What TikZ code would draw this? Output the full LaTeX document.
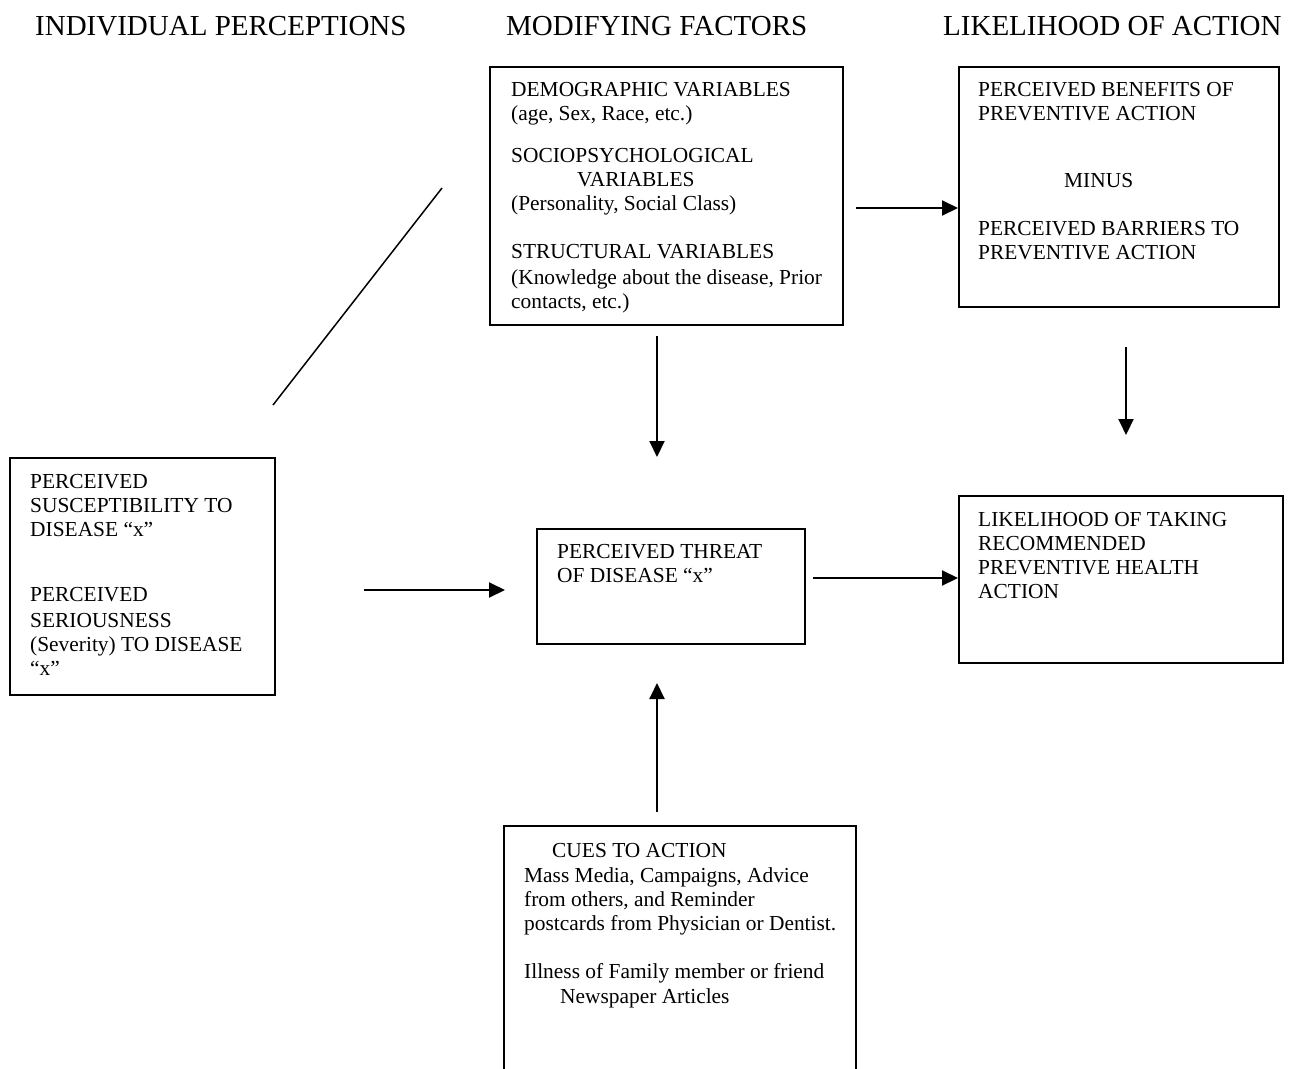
\documentclass[tikz,border=0pt]{standalone}
\usepackage{fontspec}
\setmainfont{Liberation Serif}
\usetikzlibrary{arrows.meta}
\begin{document}
\begin{tikzpicture}[x=1pt,y=-1pt,
  boxst/.style={draw=black,line width=2pt,inner sep=0pt,anchor=north west},
  txt/.style={anchor=north west,inner sep=0pt,align=left,font=\fontsize{21.4}{24}\selectfont},
  head/.style={anchor=base west,inner sep=0pt,font=\fontsize{29}{32}\selectfont},
  arr/.style={line width=2pt,-{Triangle[length=16pt,width=15pt]}},
  plain/.style={line width=1.5pt}]
\useasboundingbox (0,0) rectangle (1292,1068);
% headers
\node[head] (h1) at (35,35) {INDIVIDUAL PERCEPTIONS};
\node[head] (h2) at (506,35) {MODIFYING FACTORS};
\node[head] (h3) at (943,35) {LIKELIHOOD OF ACTION};
% boxes
\node[boxst,minimum width=353pt,minimum height=258pt] (mod) at (489,66) {};
\node[boxst,minimum width=320pt,minimum height=240pt] (ben) at (958,66) {};
\node[boxst,minimum width=265pt,minimum height=237pt] (ind) at (9,457) {};
\node[boxst,minimum width=268pt,minimum height=115pt] (thr) at (536,528) {};
\node[boxst,minimum width=324pt,minimum height=167pt] (lik) at (958,495) {};
% cues box (open at the bottom)
\coordinate (cbl) at (504,1070);
\coordinate (ctl) at (504,826);
\coordinate (ctr) at (856,826);
\coordinate (cbr) at (856,1070);
\draw[line width=2pt] (cbl) -- (ctl) -- (ctr) -- (cbr);
% texts
\node[txt] (modt) at (511,82) {DEMOGRAPHIC VARIABLES\\(age, Sex, Race, etc.)\\[18pt]SOCIOPSYCHOLOGICAL\\\hspace*{66pt}VARIABLES\\(Personality, Social Class)\\[24pt]STRUCTURAL VARIABLES\\[2pt](Knowledge about the disease, Prior\\contacts, etc.)};
\node[txt] (bent) at (978,82) {PERCEIVED BENEFITS OF\\PREVENTIVE ACTION\\[43pt]\hspace*{86pt}MINUS\\[24pt]PERCEIVED BARRIERS TO\\PREVENTIVE ACTION};
\node[txt] (indt) at (30,474) {PERCEIVED\\SUSCEPTIBILITY TO\\DISEASE “x”\\[41pt]PERCEIVED\\[2pt]SERIOUSNESS\\(Severity) TO DISEASE\\“x”};
\node[txt] (thrt) at (557,544) {PERCEIVED THREAT\\OF DISEASE “x”};
\node[txt] (likt) at (978,512) {LIKELIHOOD OF TAKING\\RECOMMENDED\\PREVENTIVE HEALTH\\ACTION};
\node[txt] (cuet) at (524,843) {\hspace*{28pt}CUES TO ACTION\\[1pt]Mass Media, Campaigns, Advice\\from others, and Reminder\\postcards from Physician or Dentist.\\[24pt]Illness of Family member or friend\\[1pt]\hspace*{36pt}Newspaper Articles};
% connectors
\coordinate (d1) at (273,405);
\coordinate (d2) at (442,188);
\draw[plain] (d1) -- (d2);
\coordinate (a1s) at (856,208); \coordinate (a1e) at (958,208);
\draw[arr] (a1s) -- (a1e);
\coordinate (a2s) at (657,336); \coordinate (a2e) at (657,457);
\draw[arr] (a2s) -- (a2e);
\coordinate (a3s) at (1126,347); \coordinate (a3e) at (1126,435);
\draw[arr] (a3s) -- (a3e);
\coordinate (a4s) at (364,590); \coordinate (a4e) at (505,590);
\draw[arr] (a4s) -- (a4e);
\coordinate (a5s) at (813,578); \coordinate (a5e) at (958,578);
\draw[arr] (a5s) -- (a5e);
\coordinate (a6s) at (657,812); \coordinate (a6e) at (657,683);
\draw[arr] (a6s) -- (a6e);
\end{tikzpicture}
\end{document}
